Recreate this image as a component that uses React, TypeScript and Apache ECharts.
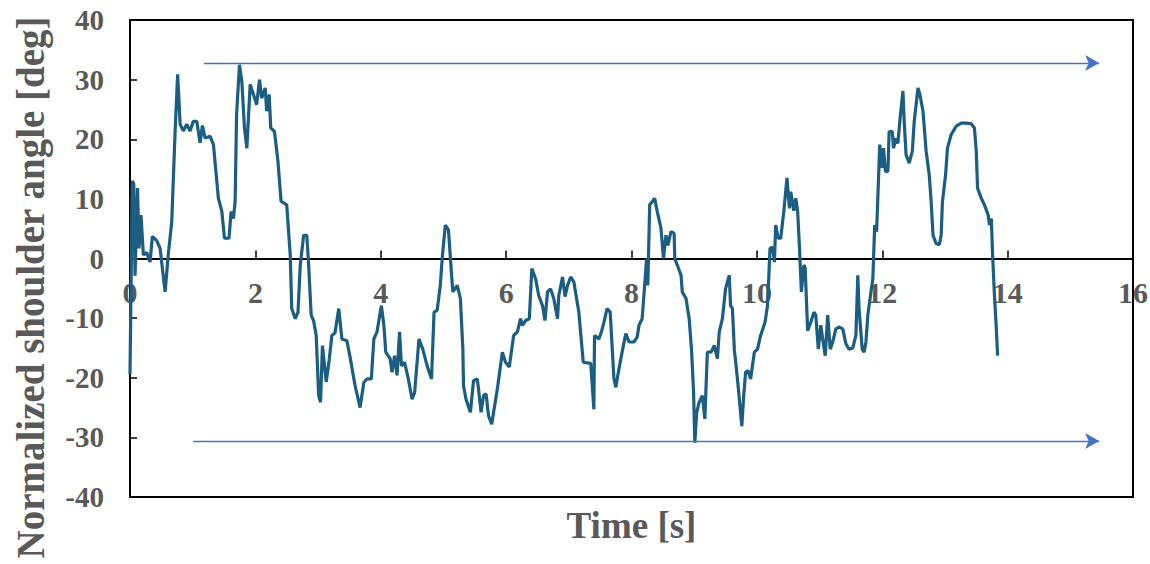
import React, { useEffect, useRef } from "react";
import * as echarts from "echarts";

const timeS: number[] = [
  0, 0.037, 0.06, 0.08, 0.12, 0.144, 0.176, 0.213, 0.266, 0.32, 0.357, 0.426, 0.48, 0.56, 0.61, 0.666,
  0.72, 0.76, 0.8, 0.85, 0.905, 0.958, 1.01, 1.065, 1.118, 1.155, 1.198, 1.278, 1.331, 1.41, 1.465,
  1.507, 1.58, 1.613, 1.65, 1.677, 1.7, 1.746, 1.784, 1.826, 1.864, 1.917, 1.97, 2.02, 2.066, 2.1,
  2.157, 2.18, 2.22, 2.245, 2.305, 2.36, 2.41, 2.5, 2.556, 2.58, 2.636, 2.68, 2.716, 2.77, 2.82, 2.85,
  2.89, 2.93, 2.97, 3.01, 3.04, 3.07, 3.13, 3.18, 3.22, 3.27, 3.33, 3.38, 3.46, 3.51, 3.59, 3.67,
  3.73, 3.78, 3.85, 3.89, 3.94, 4.01, 4.05, 4.08, 4.15, 4.18, 4.22, 4.26, 4.3, 4.33, 4.38, 4.44,
  4.5, 4.54, 4.61, 4.67, 4.74, 4.81, 4.85, 4.9, 4.95, 4.98, 5.03, 5.08, 5.13, 5.15, 5.22, 5.27,
  5.31, 5.32, 5.36, 5.43, 5.48, 5.54, 5.56, 5.6, 5.64, 5.68, 5.72, 5.77, 5.8, 5.86, 5.94, 5.99,
  6.05, 6.12, 6.18, 6.23, 6.26, 6.31, 6.37, 6.41, 6.47, 6.52, 6.58, 6.62, 6.66, 6.71, 6.76, 6.82,
  6.84, 6.9, 6.94, 6.98, 7.03, 7.08, 7.16, 7.23, 7.35, 7.4, 7.41, 7.48, 7.52, 7.56, 7.61, 7.66,
  7.69, 7.72, 7.75, 7.8, 7.87, 7.91, 7.96, 8.04, 8.09, 8.12, 8.17, 8.21, 8.24, 8.26, 8.29, 8.33,
  8.37, 8.41, 8.47, 8.51, 8.55, 8.58, 8.63, 8.68, 8.69, 8.73, 8.79, 8.81, 8.87, 8.92, 8.96, 8.99,
  9.01, 9.04, 9.08, 9.13, 9.17, 9.21, 9.27, 9.32, 9.37, 9.4, 9.45, 9.5, 9.56, 9.58, 9.61, 9.64,
  9.69, 9.76, 9.79, 9.82, 9.86, 9.9, 9.96, 10.01, 10.06, 10.13, 10.17, 10.21, 10.25, 10.28, 10.3,
  10.34, 10.38, 10.43, 10.48, 10.52, 10.54, 10.59, 10.62, 10.65, 10.68, 10.71, 10.75, 10.77, 10.81,
  10.86, 10.91, 10.94, 10.98, 11.02, 11.05, 11.09, 11.13, 11.17, 11.21, 11.26, 11.31, 11.37, 11.42,
  11.47, 11.53, 11.58, 11.61, 11.63, 11.68, 11.71, 11.74, 11.77, 11.82, 11.85, 11.88, 11.91, 11.96,
  12.0, 12.02, 12.05, 12.09, 12.11, 12.16, 12.18, 12.22, 12.25, 12.28, 12.33, 12.35, 12.38, 12.43,
  12.48, 12.51, 12.57, 12.6, 12.65, 12.7, 12.75, 12.78, 12.81, 12.86, 12.91, 12.94, 12.96, 13.01,
  13.04, 13.1, 13.18, 13.26, 13.34, 13.42, 13.47, 13.5, 13.52, 13.58, 13.63, 13.69, 13.71, 13.74,
  13.76, 13.79, 13.82, 13.84,
];

const angleDeg: number[] = [
  -19.4, 13.0, 12.5, -2.9, 11.8, 1.7, 7.3, 0.6, 1.0, -0.6, 3.7, 3.0, 1.7, -5.6, 0.6, 6.2,
  21.4, 30.9, 22.5, 21.4, 22.5, 21.4, 23.0, 23.0, 19.4, 22.3, 20.2, 20.5, 19.1, 10.1, 7.9,
  3.4, 3.4, 7.9, 6.7, 9.6, 24.1, 32.5, 29.7, 21.9, 18.5, 29.2, 27.5, 25.8, 30.0, 26.9,
  28.6, 24.7, 27.5, 21.9, 21.3, 16.3, 9.6, 9.0, 0.6, -8.4, -10.1, -9.0, -1.1, 3.9, 3.9, -1.1,
  -9.5, -10.5, -12.9, -23.0, -24.1, -14.6, -20.7, -16.8, -12.9, -12.5, -8.4, -13.5, -13.8, -16.5, -21.3, -25.0,
  -20.8, -20.2, -20.2, -13.5, -12.3, -7.9, -11.2, -15.7, -16.8, -19.1, -16.3, -19.6, -12.3, -18.0, -17.4, -20.2,
  -23.6, -22.5, -13.5, -15.2, -18.0, -20.2, -9.0, -8.7, -4.5, 0, 5.6, 4.8, -2.8, -5.6, -4.5, -6.7,
  -15.2, -21.3, -23.6, -25.8, -20.5, -20.2, -21.9, -25.8, -23.0, -22.7, -26.4, -27.8, -25.8, -21.9, -15.7, -17.4,
  -18.2, -12.9, -12.3, -10.1, -11.2, -10.4, -10.1, -1.7, -3.4, -6.2, -7.9, -10.4, -5.6, -5.1, -6.7, -10.1,
  -6.2, -3.1, -6.4, -4.5, -3.1, -3.9, -9.0, -17.4, -17.6, -25.3, -12.9, -13.5, -12.3, -10.7, -8.4, -9.0,
  -14.6, -20.2, -21.6, -18.5, -14.6, -12.6, -14.0, -14.0, -13.2, -11.2, -10.1, -4.5, 0, -4.5, 9.0, 9.5,
  10.1, 7.9, 5.1, 0, 3.9, 2.2, 4.5, 4.2, 0, -1.1, -2.8, -5.6, -6.7, -10.1, -15.7, -22.4,
  -30.9, -25.8, -24.1, -23.0, -26.9, -15.7, -15.7, -14.6, -16.8, -12.3, -10.1, -5.1, -2.8, -7.9, -8.4, -15.2,
  -20.2, -28.1, -23.0, -19.1, -18.8, -20.2, -15.7, -15.2, -12.9, -10.7, -7.9, 1.7, 1.9, -0.6, 5.6,
  3.4, 3.4, 7.9, 13.5, 8.4, 11.2, 8.0, 10.1, 8.0, 1.7, -5.6, -1.1, -1.5, -12.1,
  -10.7, -9.0, -9.5, -15.2, -11.2, -13.5, -16.3, -9.5, -15.2, -14.0, -11.8, -11.5, -11.8, -14.3,
  -15.2, -15.0, -12.9, -2.8, -8.4, -15.2, -15.7, -14.0, -9.5, -5.6, -3.4, 5.6, 4.5, 19.1,
  15.2, 18.5, 14.6, 14.6, 21.3, 21.3, 18.5, 20.2, 19.3, 23.0, 28.1, 23.0, 17.4, 16.0,
  18.0, 23.0, 28.6, 27.5, 24.7, 18.0, 14.0, 9.5, 3.9, 2.5, 2.3, 3.9, 9.5, 14.0,
  18.5, 20.8, 22.2, 22.7, 22.7, 22.6, 21.9, 18.0, 11.8, 10.1, 9.0, 7.3, 5.6, 6.7,
  0.6, -6.2, -11.8, -16.3,
];

const arrowTop: [number, number][] = [[1.18, 32.8], [15.46, 32.8]];
const arrowBottom: [number, number][] = [[1.01, -30.6], [15.46, -30.6]];

const xTitle = "Time [s]";
const yTitle = "Normalized shoulder angle [deg]";

export default function App() {
  const ref = useRef<HTMLDivElement>(null);
  useEffect(() => {
    if (!ref.current) return;
    const chart = echarts.init(ref.current, undefined, { renderer: "svg" });
    const data = timeS.map((t, i) => [t, angleDeg[i]]);
    const font = "'Liberation Serif', 'Times New Roman', serif";
    const arrowStyle = { color: "#4472C4", width: 1.3, type: "solid" as const };
    const gridLeft = 130;
    const gridRight = 17;
    const gridTop = 20;
    const gridBottom = 67;
    const plotH = 564 - gridTop - gridBottom;
    // upper half grid: its bottom edge is the zero line of the main grid
    const zeroBottom = gridBottom + plotH / 2;
    chart.setOption({
      animation: false,
      backgroundColor: "#ffffff",
      grid: [
        {
          left: gridLeft,
          right: gridRight,
          top: gridTop,
          bottom: gridBottom,
          containLabel: false,
          outerBoundsMode: "none",
          show: true,
          borderColor: "#000",
          borderWidth: 2,
          backgroundColor: "transparent",
        },
        {
          left: gridLeft,
          right: gridRight,
          top: gridTop,
          bottom: zeroBottom,
          containLabel: false,
          outerBoundsMode: "none",
          show: false,
        },
      ],
      xAxis: [
        {
          gridIndex: 0,
          type: "value",
          min: 0,
          max: 16,
          interval: 2,
          position: "bottom",
          axisLine: { onZero: false, lineStyle: { color: "#000", width: 2 } },
          axisTick: { show: false },
          axisLabel: { show: false },
          splitLine: { show: false },
          name: xTitle,
          nameLocation: "middle",
          nameGap: 10,
          nameTextStyle: {
            color: "#595959",
            fontFamily: font,
            fontWeight: "bold",
            fontSize: 37,
            verticalAlign: "top",
          },
        },
        {
          gridIndex: 1,
          type: "value",
          min: 0,
          max: 16,
          interval: 2,
          position: "bottom",
          axisLine: { onZero: false, lineStyle: { color: "#000", width: 2 } },
          axisTick: { inside: true, length: 8, lineStyle: { color: "#000", width: 1.5 } },
          axisLabel: { color: "#595959", fontFamily: font, fontWeight: "bold", fontSize: 30, margin: 19 },
          splitLine: { show: false },
        },
      ],
      yAxis: [
        {
          gridIndex: 0,
          type: "value",
          min: -40,
          max: 40,
          interval: 10,
          axisLine: { onZero: false, lineStyle: { color: "#000", width: 2 } },
          axisTick: { inside: true, length: 7, lineStyle: { color: "#000", width: 1.5 } },
          axisLabel: { color: "#595959", fontFamily: font, fontWeight: "bold", fontSize: 29, margin: 26 },
          splitLine: { show: false },
          name: yTitle,
          nameLocation: "middle",
          nameGap: 80,
          nameRotate: 90,
          nameTextStyle: {
            color: "#595959",
            fontFamily: font,
            fontWeight: "bold",
            fontSize: 39,
            padding: [0, 58, 0, 0],
          },
        },
        {
          gridIndex: 1,
          type: "value",
          min: 0,
          max: 40,
          show: false,
        },
      ],
      series: [
        {
          type: "line",
          xAxisIndex: 0,
          yAxisIndex: 0,
          data,
          showSymbol: false,
          symbol: "none",
          lineStyle: { color: "#1b5e81", width: 3.2 },
          markLine: {
            silent: true,
            symbol: ["none", "arrow"],
            symbolSize: [12, 14],
            label: { show: false },
            lineStyle: arrowStyle,
            data: [
              [{ coord: arrowTop[0] }, { coord: arrowTop[1] }],
              [{ coord: arrowBottom[0] }, { coord: arrowBottom[1] }],
            ],
          },
        },
      ],
    });
    return () => chart.dispose();
  }, []);
  return (
    <div
      ref={ref}
      style={{ position: "fixed", left: 0, top: 0, width: 1150, height: 564, background: "#fff" }}
    />
  );
}
